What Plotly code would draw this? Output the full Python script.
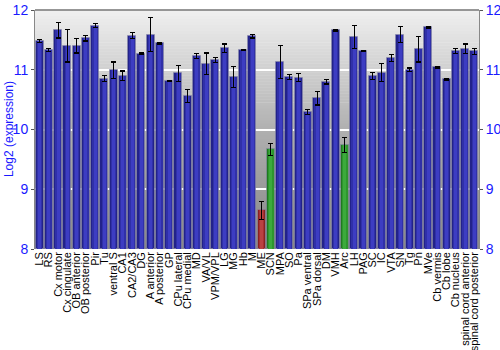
import plotly.graph_objects as go

regions = ["LS", "RS", "Cx motor", "Cx cingulate", "OB anterior", "OB posterior", "Pir", "Tu",
           "ventral S", "CA1", "CA2/CA3", "DG", "A anterior", "A posterior", "GP", "CPu lateral",
           "CPu medial", "MD", "VA/VL", "VPM/VPL", "LG", "MG", "Hb", "M", "ME", "SCN", "MPA", "SO",
           "Pa", "SPa ventral", "SPa dorsal", "DM", "VMH", "Arc", "LH", "PAG", "SC", "IC", "VTA",
           "SN", "Tg", "Pn", "MVe", "Cb vermis", "Cb lobe", "Cb nucleus", "spinal cord anterior",
           "spinal cord posterior"]
expression = [11.48, 11.33, 11.66, 11.40, 11.40, 11.53, 11.74, 10.85,
              10.99, 10.90, 11.57, 11.27, 11.59, 11.44, 10.81, 10.94,
              10.56, 11.23, 11.10, 11.16, 11.36, 10.88, 11.33, 11.56, 8.65, 9.67, 11.13, 10.88,
              10.87, 10.29, 10.52, 10.80, 11.66, 9.74, 11.55, 11.31, 10.90, 10.95, 11.20,
              11.59, 11.00, 11.34, 11.71, 11.04, 10.84, 11.31, 11.35, 11.31]
errors = [0.02, 0.03, 0.13, 0.27, 0.12, 0.05, 0.03, 0.05,
          0.14, 0.08, 0.05, 0.01, 0.29, 0.01, 0.01, 0.13,
          0.11, 0.04, 0.18, 0.04, 0.07, 0.18, 0.01, 0.03, 0.15, 0.10, 0.27, 0.04,
          0.07, 0.04, 0.11, 0.04, 0.01, 0.13, 0.19, 0.01, 0.06, 0.15, 0.06,
          0.13, 0.03, 0.21, 0.01, 0.01, 0.01, 0.04, 0.08, 0.05]
y_ticks = [8, 9, 10, 11, 12]
highlight = {"ME": "red", "SCN": "green", "Arc": "green"}

palette = {
    "blue": ["#22228a", "#3030a8", "#3d3dc2"],
    "red": ["#8a2222", "#a83232", "#ba4242"],
    "green": ["#1f7a1f", "#2e962e", "#3caa3c"],
}
kinds = [highlight.get(r, "blue") for r in regions]

fig = go.Figure()
widths = [0.86, 0.6, 0.3]
for layer in range(3):
    fig.add_trace(go.Bar(
        x=regions, y=[v - 8 for v in expression], base=8,
        width=widths[layer],
        marker=dict(color=[palette[k][layer] for k in kinds],
                    line=dict(width=1 if layer == 0 else 0, color="rgba(140,140,170,0.6)")),
        error_y=dict(type="data", array=errors, color="black", thickness=1.2, width=2.5,
                     visible=(layer == 2)),
        hoverinfo="skip" if layer < 2 else None,
        showlegend=False,
    ))

# gradient background
stops = [(0.0, 0x88), (0.25, 0x9a), (0.5, 0xb0), (0.75, 0xd0), (1.0, 0xf0)]
def grey(t):
    for (t0, c0), (t1, c1) in zip(stops[:-1], stops[1:]):
        if t0 <= t <= t1:
            return int(round(c0 + (c1 - c0) * (t - t0) / (t1 - t0)))
    return stops[-1][1]
n = 80
shapes = []
for i in range(n):
    t = (i + 0.5) / n
    g = grey(t)
    shapes.append(dict(type="rect", xref="paper", yref="paper", x0=0, x1=1,
                       y0=i / n, y1=(i + 1) / n + 0.002, layer="below",
                       fillcolor=f"rgb({g},{g},{g})", line=dict(width=0)))

tick_blue = "#1a1aff"
fig.update_layout(
    width=500, height=350,
    margin=dict(l=34.5, r=20.5, t=10, b=100.5),
    barmode="overlay", bargap=0,
    paper_bgcolor="white", plot_bgcolor="rgba(0,0,0,0)",
    font=dict(family="Liberation Sans, Arial", color="black"),
    shapes=shapes,
    xaxis=dict(tickangle=-90, tickfont=dict(size=11, color="black"), showgrid=False,
               tickmode="array", tickvals=regions, ticktext=regions,
               ticks="", automargin=False, showline=False, zeroline=False,
               range=[-0.5, len(regions) - 0.5]),
    yaxis=dict(range=[8, 12], tickvals=y_ticks, showgrid=True,
               gridcolor="white", gridwidth=1.5, tickfont=dict(size=14, color=tick_blue),
               ticks="outside", ticklen=3, tickcolor="#555", showline=True,
               linecolor="#888", linewidth=1, zeroline=False, automargin=False),
    yaxis2=dict(range=[8, 12], tickvals=y_ticks, overlaying="y", side="right",
                matches="y", tickfont=dict(size=14, color=tick_blue), ticks="outside",
                ticklen=3, tickcolor="#555", showline=True, linecolor="#888", linewidth=1,
                showgrid=False, zeroline=False, automargin=False),
)
fig.add_annotation(text="Log2 (expression)", textangle=-90, xref="paper", yref="paper",
                   x=-26.5 / 445, y=0.5, xanchor="center", yanchor="middle", showarrow=False,
                   font=dict(size=12, color=tick_blue))
fig.add_shape(type="line", xref="paper", yref="paper", x0=0, x1=1, y0=1, y1=1,
              line=dict(color="#777", width=1.5), layer="above")
fig.add_trace(go.Scatter(x=[regions[0]], y=[None], yaxis="y2", showlegend=False,
                         hoverinfo="skip"))
fig.write_html("out.html")
